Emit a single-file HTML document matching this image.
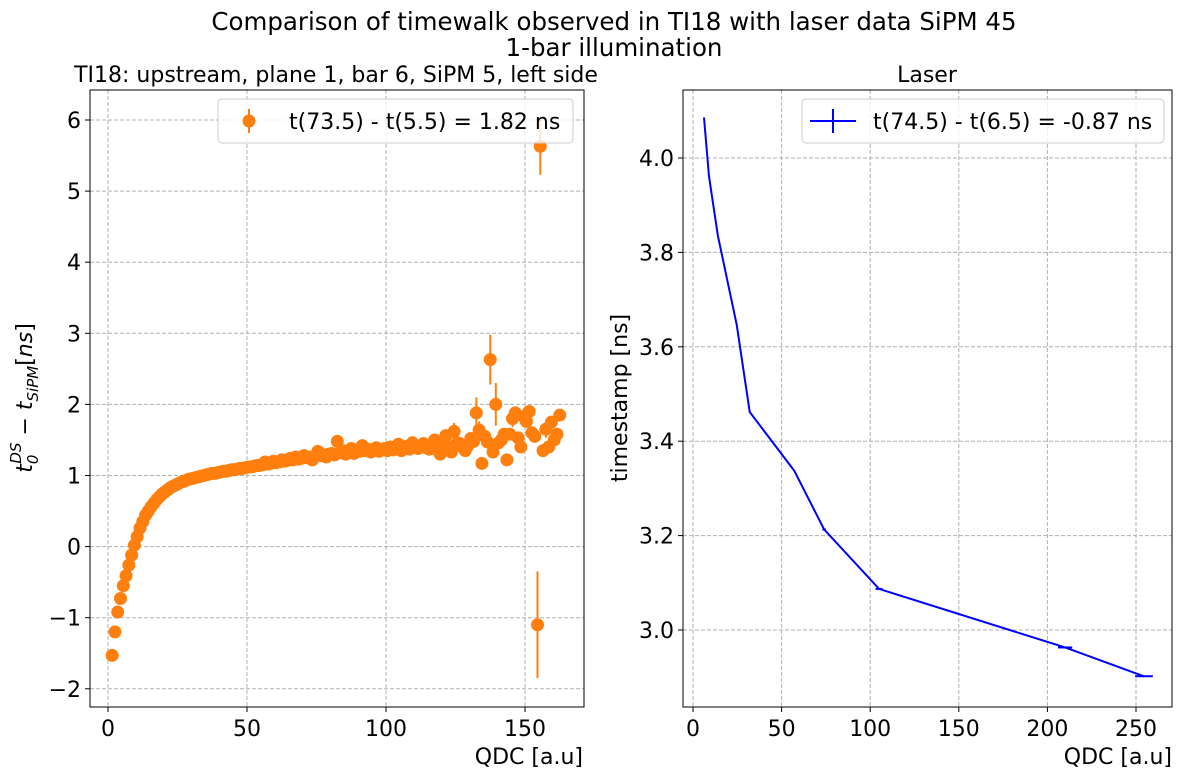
<!DOCTYPE html>
<html><head><meta charset="utf-8"><style>
html,body{margin:0;padding:0;background:#fff}
svg{display:block;font-family:"DejaVu Sans","Liberation Sans",sans-serif}
</style></head><body>
<svg id="c" width="1184" height="777" viewBox="0 0 1184 777">
<text x="614" y="30" font-size="24.5" text-anchor="middle">Comparison of timewalk observed in TI18 with laser data SiPM 45</text>
<text x="614" y="56" font-size="24.5" text-anchor="middle">1-bar illumination</text>
<text x="336" y="82" font-size="22" text-anchor="middle">TI18: upstream, plane 1, bar 6, SiPM 5, left side</text>
<text x="927" y="82" font-size="22" text-anchor="middle">Laser</text>
<g id="L"></g>
<g id="R"></g>
<text x="583" y="764" font-size="22" text-anchor="end">QDC [a.u]</text>
<text x="1172" y="764" font-size="22" text-anchor="end">QDC [a.u]</text>
<text transform="translate(32,398) rotate(-90)" font-size="22" text-anchor="middle" font-style="italic">t<tspan font-size="15" dy="6">0</tspan><tspan font-size="15" dx="-9" dy="-17">DS</tspan><tspan font-style="normal" dy="11"> − </tspan>t<tspan font-size="15" dy="6">SiPM</tspan><tspan dy="-6" font-style="normal">[</tspan>ns<tspan font-style="normal">]</tspan></text>
<text transform="translate(627,398) rotate(-90)" font-size="22" text-anchor="middle">timestamp [ns]</text>
</svg>
<script>
const leftY = [-1.53,-1.20,-0.92,-0.73,-0.55,-0.41,-0.26,-0.12,0.02,0.14,0.26,0.35,0.44,0.50,0.56,0.61,0.66,0.70,0.74,0.77,
0.80,0.83,0.85,0.87,0.89,0.91,0.92,0.94,0.95,0.96,0.97,0.98,0.99,1.00,1.01,1.02,1.03,1.03,1.04,1.05,
1.06,1.06,1.07,1.08,1.08,1.09,1.10,1.10,1.11,1.12,1.12,1.13,1.14,1.14,1.15,1.19,1.16,1.17,1.20,1.18,
1.19,1.22,1.20,1.21,1.24,1.22,1.26,1.23,1.24,1.28,1.25,1.26,1.22,1.27,1.34,1.28,1.29,1.26,1.30,1.31,
1.29,1.48,1.32,1.35,1.30,1.33,1.38,1.31,1.36,1.34,1.42,1.35,1.37,1.33,1.36,1.39,1.34,1.37,1.38,1.35,
1.40,1.36,1.38,1.44,1.35,1.39,1.41,1.37,1.46,1.40,1.38,1.42,1.45,1.39,1.37,1.41,1.50,1.36,1.30,1.44,
1.56,1.40,1.33,1.62,1.46,1.45,1.40,1.35,1.42,1.52,1.48,1.88,1.64,1.17,1.55,1.47,2.63,1.33,2.00,1.46,
1.50,1.58,1.22,1.58,1.80,1.88,1.53,1.40,1.83,1.76,1.90,1.60,1.55,-1.10,5.63,1.35,1.65,1.40,1.75,1.50,1.58,1.85];
const leftX0 = 1.5;
const leftErrDefault = 0.03;
const leftErrLarge = {"124.5":0.12,"132.5":0.22,"133.5":0.12,"137.5":0.35,"139.5":0.3,"145.5":0.12,"149.5":0.1,"154.5":0.75,"155.5":0.4,"157.5":0.12,"160.5":0.1};
const rightX = [6.2,9.0,14.0,24.7,32.0,57.2,74.0,105.0,210.0,254.5];
const rightY = [4.086,3.962,3.836,3.646,3.462,3.337,3.213,3.087,2.963,2.902];
const rightXErr = [0,0,0,0,0,0,1,2,4,5];
const leftXTicks = [0,50,100,150];
const leftYTicks = [-2,-1,0,1,2,3,4,5,6];
const rightXTicks = [0,50,100,150,200,250];
const rightYTicks = [3.0,3.2,3.4,3.6,3.8,4.0];

const NS='http://www.w3.org/2000/svg';
function mk(p,t,a){const e=document.createElementNS(NS,t);for(const k in a)e.setAttribute(k,a[k]);p.appendChild(e);return e;}
function axes(g,box,xs,ys,xt,yt,xfmt,yfmt,pref){
  for(const v of xt){const x=xs(v);
    const gl=mk(g,'line',{x1:x,x2:x,y1:box.t,y2:box.b,stroke:'#b0b0b0','stroke-dasharray':'4,2'});
    
    mk(g,'line',{x1:x,x2:x,y1:box.b,y2:box.b+5,stroke:'#000'});
    const t=mk(g,'text',{x:x,y:box.b+29,'font-size':22,'text-anchor':'middle'});t.textContent=xfmt(v);
    }
  for(const v of yt){const y=ys(v);
    const gl=mk(g,'line',{x1:box.l,x2:box.r,y1:y,y2:y,stroke:'#b0b0b0','stroke-dasharray':'4,2'});
    
    mk(g,'line',{x1:box.l-5,x2:box.l,y1:y,y2:y,stroke:'#000'});
    const t=mk(g,'text',{x:box.l-9,y:y+8,'font-size':22,'text-anchor':'end'});t.textContent=yfmt(v);
    }
}
const L=document.getElementById('L');
const lb={l:90,r:584,t:90,b:707};
const lx=v=>108+v*2.78, ly=v=>120+(6-v)*71.1;
axes(L,lb,lx,ly,leftXTicks,leftYTicks,v=>String(v),v=>v<0?'−'+(-v):String(v),'left-');
leftY.forEach((v,i)=>{const xv=leftX0+i;const e=leftErrLarge[xv.toFixed(1)]||leftErrDefault;
  const l=mk(L,'line',{x1:lx(xv),x2:lx(xv),y1:ly(v-e),y2:ly(v+e),stroke:'#ff7f0e','stroke-width':2});
  
  const c=mk(L,'circle',{cx:lx(xv),cy:ly(v),r:6.5,fill:'#ff7f0e'});
  });
mk(L,'rect',{x:lb.l,y:lb.t,width:lb.r-lb.l,height:lb.b-lb.t,fill:'none',stroke:'#000','stroke-width':1});
const lg=mk(L,'g',{});

mk(lg,'rect',{x:218,y:99,width:355,height:44,rx:4,fill:'#fff','fill-opacity':0.8,stroke:'#ccc'});
mk(lg,'line',{x1:249,x2:249,y1:109,y2:133,stroke:'#ff7f0e','stroke-width':2});
mk(lg,'circle',{cx:249,cy:121,r:6.5,fill:'#ff7f0e'});
const lt=mk(lg,'text',{x:289,y:129,'font-size':22});lt.textContent='t(73.5) - t(5.5) = 1.82 ns';
const R=document.getElementById('R');
const rb={l:683,r:1172,t:90,b:707};
const rx=v=>693+v*1.772, ry=v=>158+(4-v)*472;
axes(R,rb,rx,ry,rightXTicks,rightYTicks,v=>String(v),v=>v.toFixed(1),'right-');
const pl=mk(R,'polyline',{points:rightX.map((x,i)=>rx(x)+','+ry(rightY[i])).join(' '),fill:'none',stroke:'#0000ff','stroke-width':2});

rightX.forEach((x,i)=>{const e=rightXErr[i];if(!e)return;
  const l=mk(R,'line',{x1:rx(x-e),x2:rx(x+e),y1:ry(rightY[i]),y2:ry(rightY[i]),stroke:'#0000ff','stroke-width':2});
  });
mk(R,'rect',{x:rb.l,y:rb.t,width:rb.r-rb.l,height:rb.b-rb.t,fill:'none',stroke:'#000','stroke-width':1});
const rg=mk(R,'g',{});

mk(rg,'rect',{x:802,y:99,width:362,height:44,rx:4,fill:'#fff','fill-opacity':0.8,stroke:'#ccc'});
mk(rg,'line',{x1:810,x2:856,y1:121,y2:121,stroke:'#0000ff','stroke-width':2});
mk(rg,'line',{x1:833,x2:833,y1:109,y2:133,stroke:'#0000ff','stroke-width':2});
const rt=mk(rg,'text',{x:873,y:129,'font-size':22});rt.textContent='t(74.5) - t(6.5) = -0.87 ns';
</script>
</body></html>
